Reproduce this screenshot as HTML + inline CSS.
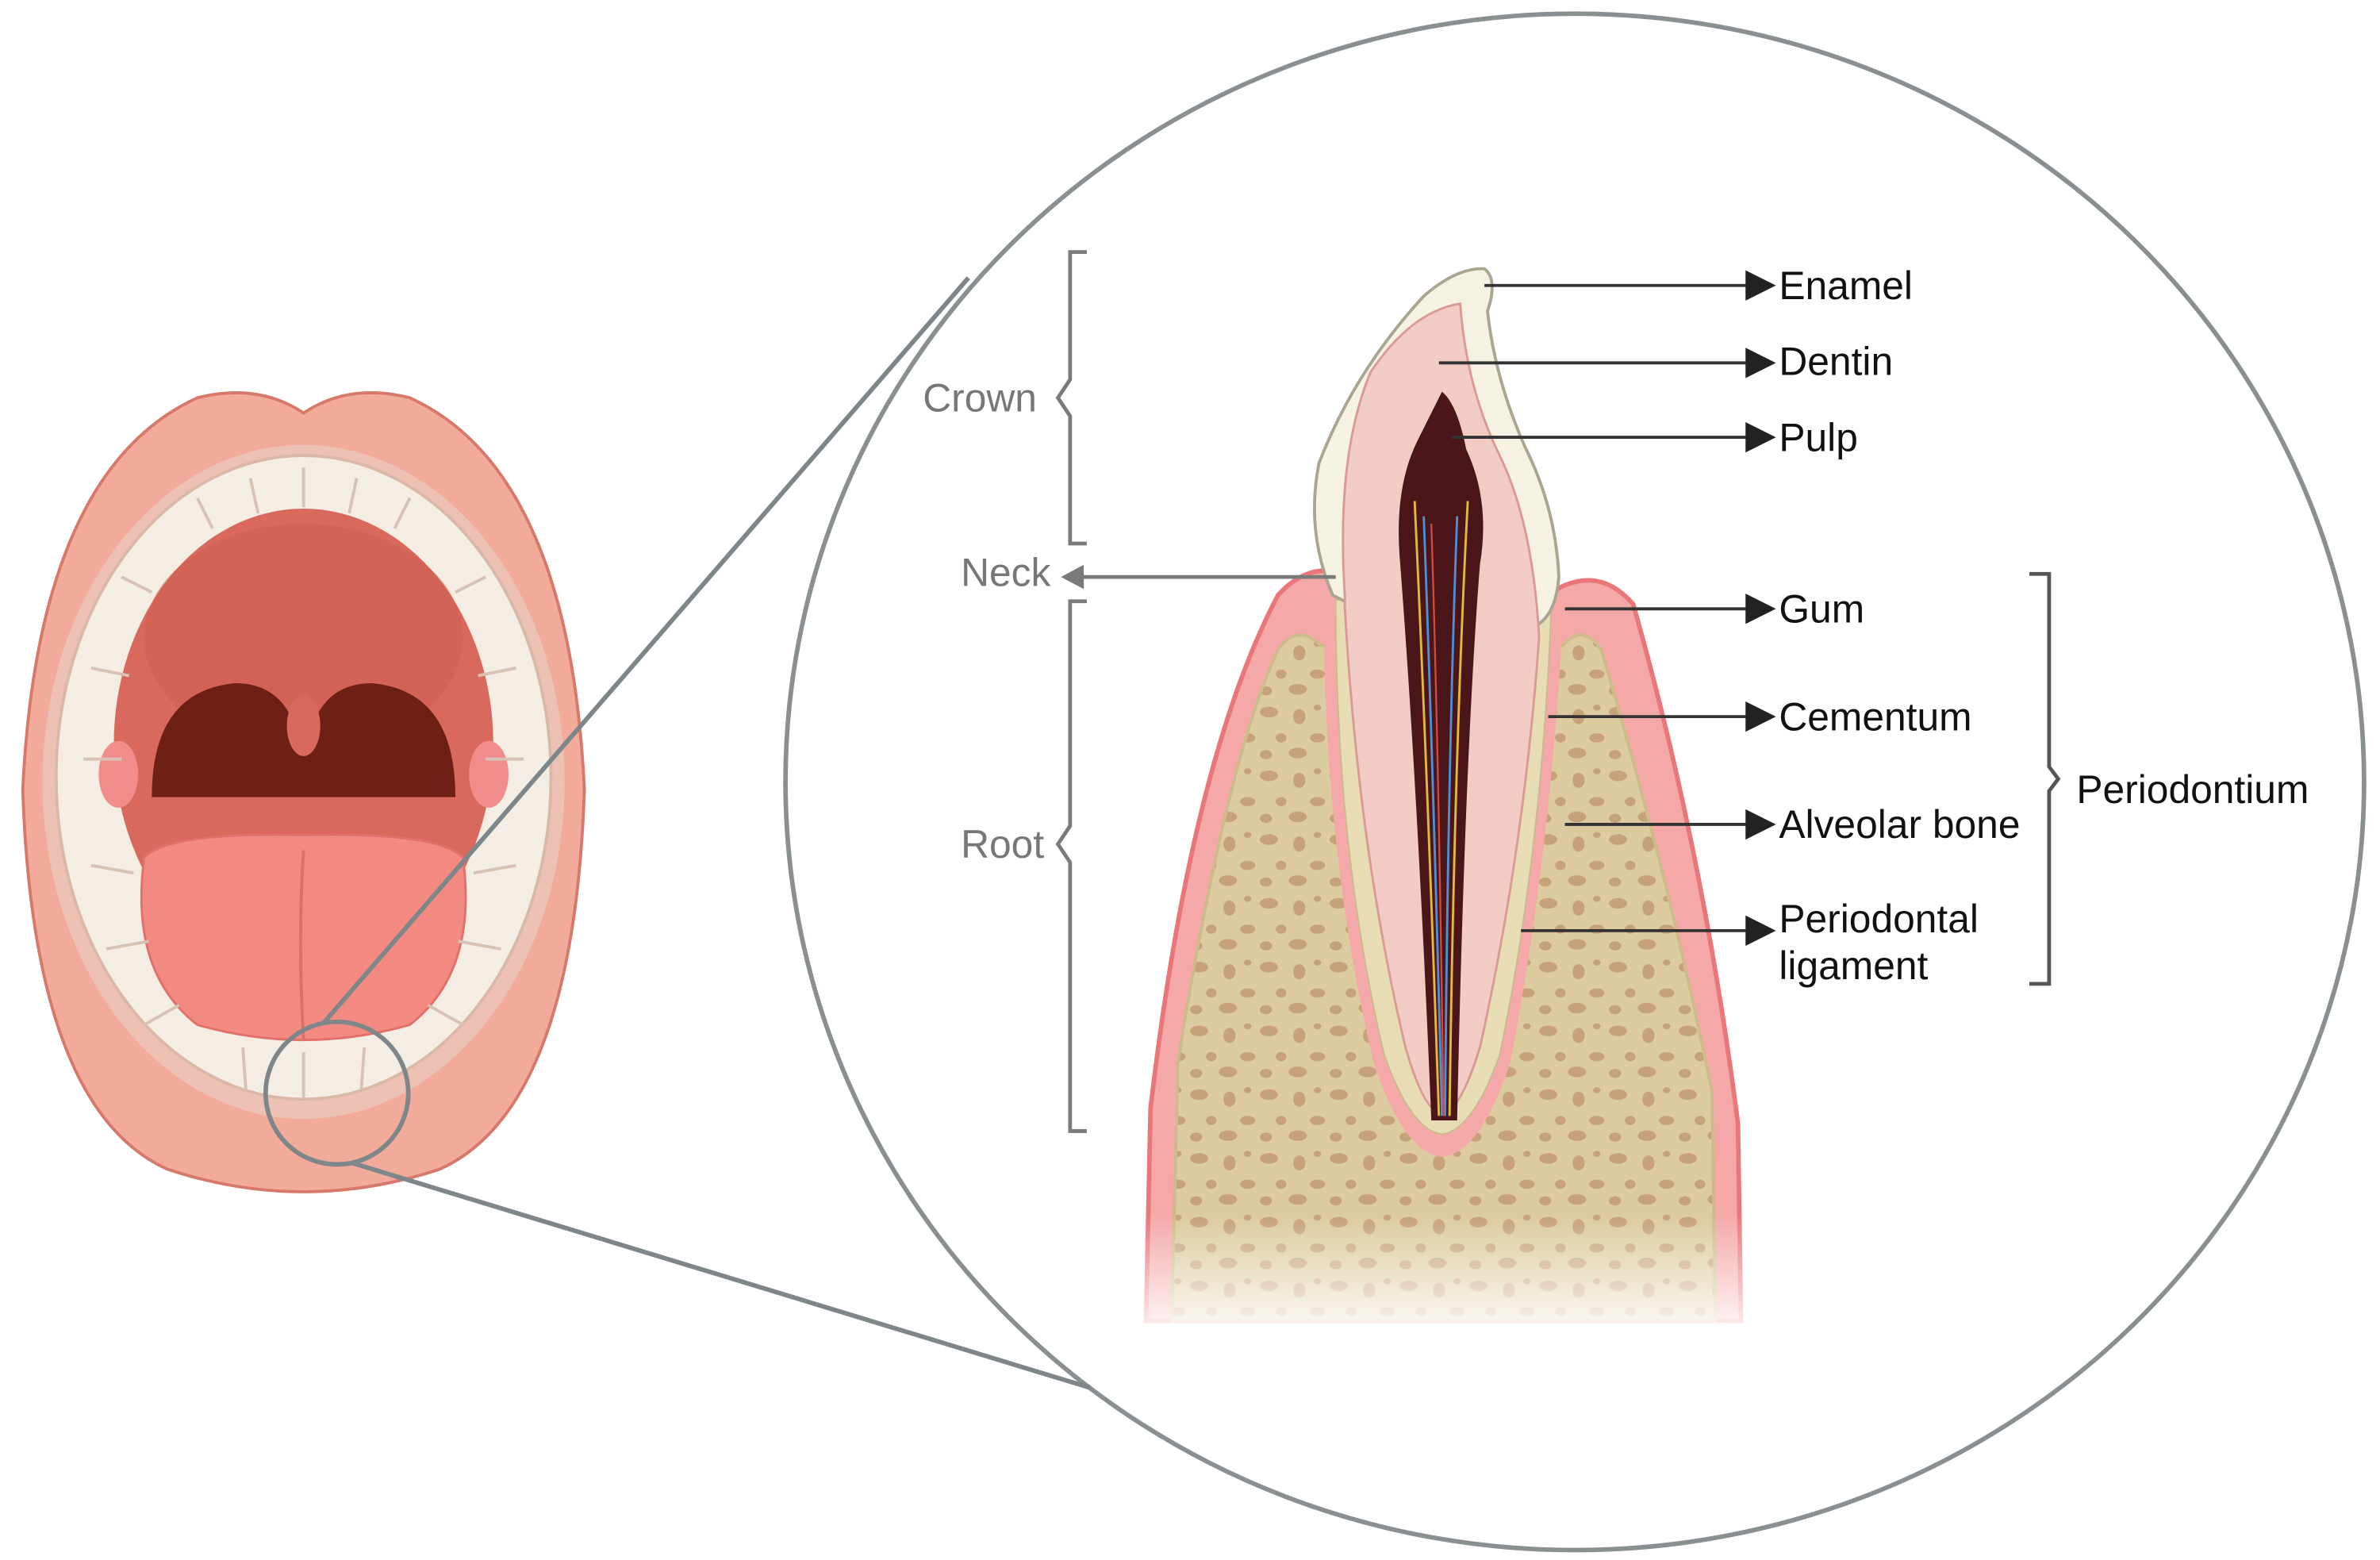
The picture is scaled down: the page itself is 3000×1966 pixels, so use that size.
<!DOCTYPE html>
<html><head><meta charset="utf-8"><style>
html,body{margin:0;padding:0;background:#fff;}
svg{display:block;}
text{font-family:"Liberation Sans",sans-serif;}
</style></head><body>
<svg width="3000" height="1966" viewBox="0 0 1568 1027.5" xmlns="http://www.w3.org/2000/svg">
<defs>
<pattern id="bone" x="0" y="0" width="46" height="42" patternUnits="userSpaceOnUse">
<rect width="46" height="42" fill="#dccb9f"/>
<ellipse cx="8" cy="7" rx="6" ry="3.5" fill="#c6a27a"/>
<ellipse cx="28" cy="10" rx="4" ry="5" fill="#c6a27a"/>
<ellipse cx="40" cy="24" rx="5" ry="3" fill="#c6a27a"/>
<ellipse cx="16" cy="24" rx="3.5" ry="3" fill="#c6a27a"/>
<ellipse cx="6" cy="35" rx="4" ry="3" fill="#c6a27a"/>
<ellipse cx="27" cy="34" rx="6" ry="3.5" fill="#c6a27a"/>
<ellipse cx="40" cy="4" rx="2.5" ry="2" fill="#c6a27a"/>
</pattern>
<linearGradient id="fade" x1="0" y1="0" x2="0" y2="1">
<stop offset="0" stop-color="#fff" stop-opacity="0"/>
<stop offset="1" stop-color="#fff" stop-opacity="1"/>
</linearGradient>
</defs>

<ellipse cx="1037.5" cy="515" rx="520" ry="506" fill="#fff" stroke="#8a8f92" stroke-width="3"/>

<path d="M755,870 L758,730 Q785,500 842,392 Q862,370 885,378 L1015,395 Q1050,368 1076,398 Q1122,560 1145,740 L1147,870 Z" fill="#f4a9a8" stroke="#e9777a" stroke-width="3"/>
<path d="M772,870 L776,700 Q808,500 842,428 Q855,410 870,425 L1030,425 Q1042,410 1055,428 Q1100,580 1128,720 L1130,870 Z" fill="url(#bone)" stroke="#cdbb8a" stroke-width="2"/>
<path d="M872,395 Q872,560 905,700 Q925,760 950,762 Q975,760 995,700 Q1022,560 1030,400 Z" fill="#f4a9a8"/>
<path d="M880,395 Q880,560 912,695 Q930,745 950,747 Q970,745 988,695 Q1016,560 1022,400 Z" fill="#e7dcb4" stroke="#c9bb90" stroke-width="1"/>
<path d="M878,392 Q860,350 869,305 Q892,245 938,195 Q960,176 978,177 Q987,184 980,205 Q985,250 1005,295 Q1025,335 1027,380 Q1025,405 1012,412 L1000,405 L890,398 Z" fill="#f6f2e3" stroke="#aaa590" stroke-width="2"/>
<path d="M886,392 Q880,300 903,245 Q930,205 962,200 Q966,255 988,300 Q1010,345 1014,420 Q1004,560 975,690 Q962,732 950,734 Q938,732 926,690 Q895,560 886,400 Z" fill="#f2cbc4" stroke="#d89a94" stroke-width="1.5"/>
<path d="M950,258 Q960,266 966,296 Q982,330 975,372 Q965,500 960,738 L943,738 Q934,520 922,365 Q919,320 934,290 Z" fill="#4a161a"/>
<path d="M932,330 Q940,500 948,735 M967,330 Q958,500 955,735" stroke="#e5b93a" stroke-width="1.5" fill="none"/>
<path d="M938,340 Q944,500 950,735 M960,340 Q954,500 952,735" stroke="#4f8fd6" stroke-width="1.5" fill="none"/>
<path d="M943,345 Q948,500 951,735" stroke="#d24a3c" stroke-width="1.2" fill="none"/>
<rect x="740" y="800" width="420" height="85" fill="url(#fade)"/>

<g stroke="#333" stroke-width="2" fill="none">
<line x1="978" y1="188" x2="1155" y2="188"/>
<line x1="948" y1="239" x2="1155" y2="239"/>
<line x1="956" y1="288" x2="1155" y2="288"/>
<line x1="1031" y1="401" x2="1155" y2="401"/>
<line x1="1020" y1="472" x2="1155" y2="472"/>
<line x1="1031" y1="543" x2="1155" y2="543"/>
<line x1="1002" y1="613" x2="1155" y2="613"/>
</g>
<g fill="#222">
<polygon points="1150,178 1170,188 1150,198"/>
<polygon points="1150,229 1170,239 1150,249"/>
<polygon points="1150,278 1170,288 1150,298"/>
<polygon points="1150,391 1170,401 1150,411"/>
<polygon points="1150,462 1170,472 1150,482"/>
<polygon points="1150,533 1170,543 1150,553"/>
<polygon points="1150,603 1170,613 1150,623"/>
</g>
<g font-size="26" fill="#111">
<text x="1172" y="197">Enamel</text>
<text x="1172" y="247">Dentin</text>
<text x="1172" y="297">Pulp</text>
<text x="1172" y="410">Gum</text>
<text x="1172" y="481">Cementum</text>
<text x="1172" y="552">Alveolar bone</text>
<text x="1172" y="614">Periodontal</text>
<text x="1172" y="645">ligament</text>
<text x="1368" y="529">Periodontium</text>
</g>
<path d="M1337,378 L1350,378 L1350,505 L1356,513 L1350,521 L1350,648 L1337,648" stroke="#555" stroke-width="2.5" fill="none"/>

<g stroke="#7a7a7a" stroke-width="2.5" fill="none">
<path d="M716,166 L705,166 L705,250 L697,262 L705,274 L705,358 L716,358"/>
<path d="M716,396 L705,396 L705,544 L697,556 L705,568 L705,745 L716,745"/>
<line x1="712" y1="380" x2="880" y2="380"/>
</g>
<polygon points="699,380 714,372 714,388" fill="#7a7a7a"/>
<g font-size="26" fill="#777">
<text x="608" y="271">Crown</text>
<text x="633" y="386">Neck</text>
<text x="633" y="565">Root</text>
</g>

<path d="M200,272 Q170,252 130,262 Q25,310 15,520 Q22,730 110,770 Q200,800 290,770 Q378,730 385,520 Q375,310 270,262 Q230,252 200,272 Z" fill="#f2aa9a" stroke="#d6786a" stroke-width="2"/>
<ellipse cx="200" cy="515" rx="172" ry="222" fill="#ecc0b3"/>
<ellipse cx="200" cy="512" rx="163" ry="212" fill="#f4ede4" stroke="#d9b8a8" stroke-width="2"/>
<ellipse cx="200" cy="490" rx="125" ry="155" fill="#d9695c"/>
<ellipse cx="200" cy="420" rx="105" ry="75" fill="#cf5f52" opacity="0.6"/>
<path d="M100,525 Q100,455 155,450 Q185,450 195,480 Q200,495 205,480 Q215,450 245,450 Q300,455 300,525 Z" fill="#6e1f16"/>
<ellipse cx="200" cy="478" rx="11" ry="20" fill="#d9695c"/>
<ellipse cx="78" cy="510" rx="13" ry="22" fill="#f08c8c"/>
<ellipse cx="322" cy="510" rx="13" ry="22" fill="#f08c8c"/>
<path d="M95,565 Q110,548 200,550 Q290,548 305,565 Q315,640 270,675 Q200,695 130,675 Q85,640 95,565 Z" fill="#f28a82" stroke="#e2706a" stroke-width="1.5"/>
<path d="M200,560 Q196,620 200,685" stroke="#d9706a" stroke-width="2" fill="none"/>
<g stroke="#d7c2b6" stroke-width="2" fill="none">
<path d="M130,328 L140,348 M165,315 L170,338 M200,308 L200,334 M235,315 L230,338 M270,328 L260,348"/>
<path d="M80,380 L100,390 M60,440 L85,445 M55,500 L80,500 M320,380 L300,390 M340,440 L315,445 M345,500 L320,500"/>
<path d="M60,570 L88,575 M70,625 L98,620 M95,675 L118,662 M340,570 L312,575 M330,625 L302,620 M305,675 L282,662"/>
<path d="M160,690 L162,718 M200,693 L200,724 M240,690 L238,718"/>
</g>

<circle cx="222" cy="720" r="47" fill="none" stroke="#7f8689" stroke-width="3"/>
<line x1="213" y1="674" x2="638" y2="183" stroke="#7f8689" stroke-width="3"/>
<line x1="232" y1="766" x2="718" y2="914" stroke="#7f8689" stroke-width="3"/>
</svg>
</body></html>
